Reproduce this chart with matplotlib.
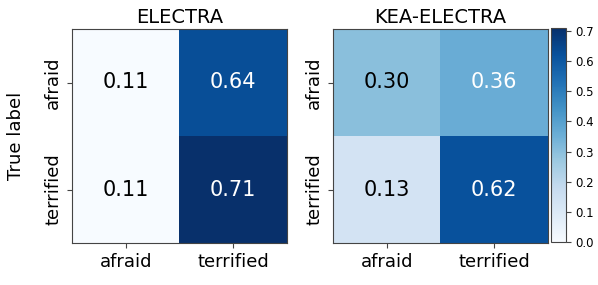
import matplotlib
matplotlib.use("Agg")
import matplotlib.pyplot as plt
import numpy as np

labels = ["afraid", "terrified"]
electra = np.array([[0.11, 0.64], [0.11, 0.71]])
kea_electra = np.array([[0.30, 0.36], [0.13, 0.62]])
titles = ["ELECTRA", "KEA-ELECTRA"]

fig = plt.figure(figsize=(5.98, 2.85), dpi=100)
W, H = 598, 285
def pos(x0, y0, x1, y1):
    return [x0 / W, 1 - y1 / H, (x1 - x0) / W, (y1 - y0) / H]

axes = [fig.add_axes(pos(72, 29, 287, 243)), fig.add_axes(pos(333, 29, 548, 243))]
cax = fig.add_axes(pos(551, 28, 566, 242))

for i, (ax, data, title) in enumerate(zip(axes, [electra, kea_electra], titles)):
    if i == 0:
        vmin, vmax = data.min(), data.max()
    else:
        vmin, vmax = 0.0, electra.max()
    im = ax.imshow(data, cmap="Blues", vmin=vmin, vmax=vmax, aspect="auto")
    ax.set_title(title, fontsize=14, pad=4)
    ax.set_xticks(range(len(labels)))
    ax.set_xticklabels(labels, fontsize=13)
    ax.set_yticks(range(len(labels)))
    ax.set_yticklabels(labels, fontsize=13, rotation=90, va="center")
    thresh = (vmin + vmax) / 2 if i == 0 else vmax / 2
    for r in range(data.shape[0]):
        for c in range(data.shape[1]):
            v = data[r, c]
            ax.text(c, r, f"{v:.2f}", ha="center", va="center", fontsize=15,
                    color="white" if v > thresh else "black")
    for s in ax.spines.values():
        s.set_color("#444444")
    ax.tick_params(color="#444444")
    if i == 0:
        ax.set_ylabel("True label", fontsize=13, labelpad=14)

cb = fig.colorbar(im, cax=cax)
cb.set_ticks(np.arange(0, 0.71, 0.1))
cb.ax.tick_params(labelsize=8.5, color="#444444")
cb.outline.set_edgecolor("#444444")

fig.savefig("out.png", dpi=100)
